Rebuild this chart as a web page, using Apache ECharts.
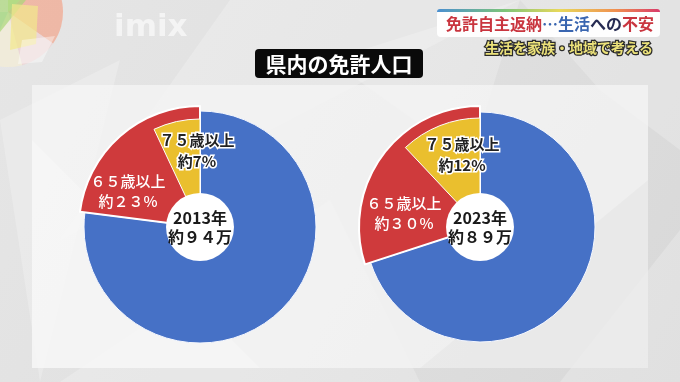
<!DOCTYPE html>
<html lang="ja">
<head>
<meta charset="utf-8">
<title>県内の免許人口</title>
<script src="https://cdn.jsdelivr.net/npm/echarts@6/dist/echarts.min.js"></script>
<style>
  html, body { margin: 0; padding: 0; background: #dedede; }
  #chart { width: 680px; height: 382px; }
</style>
</head>
<body>
<div id="chart"></div>
<script>
// Licence holders in the prefecture, by age share
const years = ['2013年', '2023年'];
const totals = ['約９４万', '約８９万'];
const share65 = [23, 30];   // 65歳以上 (includes 75歳以上)
const share75 = [7, 12];    // 75歳以上
const label65 = '６５歳以上';
const label75 = '７５歳以上';

const FONT = '"Noto Sans CJK JP", "Noto Sans", sans-serif';
const BLUE = '#4671c6', RED = '#cf3a3c', YELLOW = '#eabf2e';

// Layout for the two pies
const centers = [[200, 227], [480, 227]];
const rBlue = [116, 115], rRed = [121, 121], rYellow = [108, 109], rHole = 34;
const off75 = [[-3, -76], [-18, -72]];
const off65 = [[-72, -36], [-76, -14]];

const wide = n => String(n).replace(/[0-9]/g, d => String.fromCharCode(d.charCodeAt(0) + 0xFEE0));
const none = { color: 'rgba(0,0,0,0)', borderWidth: 0 };

const series = [];
const texts = [];
years.forEach((yr, i) => {
  const c = centers[i];
  const rest = 100 - share65[i];
  // base slice (under 65)
  series.push({
    type: 'pie', center: c, radius: [0, rBlue[i]], startAngle: 90, clockwise: true,
    silent: true, label: { show: false }, labelLine: { show: false }, animation: false,
    data: [
      { name: '65歳未満', value: rest, itemStyle: { color: BLUE, borderColor: '#f4f7ff', borderWidth: 1 } },
      { name: '65歳以上', value: share65[i], itemStyle: none }
    ]
  });
  // 65+ slice, slightly raised
  series.push({
    type: 'pie', center: c, radius: [0, rRed[i]], startAngle: 90, clockwise: true,
    silent: true, label: { show: false }, labelLine: { show: false }, animation: false,
    data: [
      { name: '65歳未満', value: rest, itemStyle: none },
      { name: '65歳以上', value: share65[i], itemStyle: { color: RED, borderColor: '#ffffff', borderWidth: 2 } }
    ]
  });
  // 75+ slice inside the 65+ slice
  series.push({
    type: 'pie', center: c, radius: [0, rYellow[i]], startAngle: 90, clockwise: true,
    silent: true, label: { show: false }, labelLine: { show: false }, animation: false,
    data: [
      { name: '75歳未満', value: 100 - share75[i], itemStyle: none },
      { name: '75歳以上', value: share75[i], itemStyle: { color: YELLOW, borderColor: '#ffffff', borderWidth: 1 } }
    ]
  });
  // white centre disc with the year and total
  series.push({
    type: 'pie', center: c, radius: [0, rHole], silent: true, animation: false,
    itemStyle: { color: '#ffffff' },
    label: {
      show: true, position: 'center', fontFamily: FONT, fontWeight: 'bold',
      fontSize: 16, lineHeight: 19, color: '#1a1a1a',
      formatter: () => yr + '\n' + totals[i]
    },
    labelLine: { show: false },
    data: [{ name: yr, value: 1 }]
  });

  texts.push({
    type: 'text', x: c[0] + off75[i][0], y: c[1] + off75[i][1], z: 20,
    style: {
      text: label75 + '\n約' + share75[i] + '%', align: 'center', verticalAlign: 'middle',
      font: 'bold 15px ' + FONT, lineHeight: 21, fill: '#222222',
      stroke: '#ffffff', lineWidth: 3
    }
  });
  texts.push({
    type: 'text', x: c[0] + off65[i][0], y: c[1] + off65[i][1], z: 20,
    style: {
      text: label65 + '\n約' + wide(share65[i]) + '%', align: 'center', verticalAlign: 'middle',
      font: '500 15px ' + FONT, lineHeight: 20, fill: '#ffffff'
    }
  });
});

// Backdrop: facets, panel, logos, headline
const facets = [
  [[230, 0], [520, 0], [60, 240]],
  [[0, 120], [120, 60], [40, 382]],
  [[520, 0], [680, 0], [680, 150], [600, 90]],
  [[60, 382], [330, 200], [420, 382]],
  [[560, 382], [680, 230], [680, 382]],
  [[330, 60], [520, 0], [470, 160]]
];
const LC = [8, 12], LR = 55;
const deg = a => a * Math.PI / 180;
const logoSector = (a0, a1, fill) => ({
  type: 'sector', shape: { cx: LC[0], cy: LC[1], r: LR, r0: 0, startAngle: deg(a0), endAngle: deg(a1) },
  z: -6, silent: true, style: { fill: fill }
});
const backdrop = [
  { type: 'rect', shape: { x: 0, y: 0, width: 680, height: 382 }, z: -10, silent: true,
    style: { fill: { type: 'linear', x: 0, y: 0, x2: 1, y2: 1, colorStops: [
      { offset: 0, color: '#e6e6e6' }, { offset: 0.5, color: '#e0e0e0' }, { offset: 1, color: '#d8d8d8' }] } } },
  ...facets.map(p => ({ type: 'polygon', shape: { points: p }, z: -9, silent: true,
    style: { fill: 'rgba(255,255,255,0.22)' } })),
  { type: 'rect', shape: { x: 32, y: 85, width: 616, height: 283 }, z: -8, silent: true,
    style: { fill: 'rgba(245,245,245,0.78)' } },
  { type: 'polygon', shape: { points: [[32, 140], [260, 368], [32, 368]] }, z: -7, silent: true,
    style: { fill: 'rgba(255,255,255,0.25)' } },
  { type: 'polygon', shape: { points: [[648, 180], [420, 368], [648, 368]] }, z: -7, silent: true,
    style: { fill: 'rgba(0,0,0,0.025)' } },
  // corner logo: pastel faceted disc
  logoSector(-90, -45, 'rgba(190,225,140,0.75)'),
  logoSector(-45, 35, 'rgba(242,165,140,0.7)'),
  logoSector(35, 75, 'rgba(240,205,205,0.6)'),
  logoSector(75, 115, 'rgba(246,238,210,0.6)'),
  logoSector(115, 180, 'rgba(170,220,200,0.6)'),
  { type: 'polygon', shape: { points: [[0, 0], [26, 0], [0, 32]] }, z: -5, silent: true,
    style: { fill: 'rgba(170,215,120,0.7)' } },
  { type: 'polygon', shape: { points: [[12, 4], [38, 6], [36, 44], [10, 50]] }, z: -5, silent: true,
    style: { fill: 'rgba(242,232,140,0.7)' } },
  { type: 'polygon', shape: { points: [[22, 40], [55, 36], [42, 62], [18, 64]] }, z: -5, silent: true,
    style: { fill: 'rgba(255,255,255,0.4)' } },
  // station mark
  { type: 'text', x: 114, y: 12, z: -4, silent: true,
    style: { text: 'imix', font: 'bold 31px "DejaVu Sans", sans-serif', fill: 'rgba(255,255,255,0.6)' } },
  // headline banner
  { type: 'rect', shape: { x: 437, y: 10, width: 223, height: 27, r: 4 }, z: 5, silent: true,
    style: { fill: 'rgba(255,255,255,0.95)' } },
  { type: 'rect', shape: { x: 437, y: 9, width: 223, height: 3, r: [3, 3, 0, 0] }, z: 6, silent: true,
    style: { fill: { type: 'linear', x: 0, y: 0, x2: 1, y2: 0, colorStops: [
      { offset: 0, color: '#4a8fd0' }, { offset: 0.3, color: '#7cc47a' }, { offset: 0.55, color: '#e8d85a' },
      { offset: 0.8, color: '#f09050' }, { offset: 1, color: '#d83a6a' }] } } },
  { type: 'text', x: 446, y: 24, z: 7, silent: true,
    style: {
      text: '{r|免許自主返納}{b|…生活}{n|への}{r|不安}', verticalAlign: 'middle',
      rich: {
        r: { fontFamily: FONT, fontWeight: 'bold', fontSize: 16, fill: '#c9353f' },
        b: { fontFamily: FONT, fontWeight: 'bold', fontSize: 16, fill: '#3a66b0' },
        n: { fontFamily: FONT, fontWeight: 'bold', fontSize: 16, fill: '#262b52' }
      }
    } },
  { type: 'text', x: 653, y: 48, z: 7, silent: true,
    style: { text: '生活を家族・地域で考える', align: 'right', verticalAlign: 'middle',
      font: 'bold 14px ' + FONT, fill: '#ece27a', stroke: '#2a2a2a', lineWidth: 2.5 } },
  // chart title
  { type: 'rect', shape: { x: 255, y: 49, width: 168, height: 29, r: 4 }, z: 5, silent: true,
    style: { fill: '#0a0a0a' } },
  { type: 'text', x: 339, y: 64, z: 6, silent: true,
    style: { text: '県内の免許人口', align: 'center', verticalAlign: 'middle',
      font: 'bold 21px ' + FONT, fill: '#ffffff' } }
];

const chart = echarts.init(document.getElementById('chart'), null, { renderer: 'canvas' });
chart.setOption({
  backgroundColor: '#dedede',
  animation: false,
  series: series,
  graphic: { elements: backdrop.concat(texts) }
});
</script>
</body>
</html>
